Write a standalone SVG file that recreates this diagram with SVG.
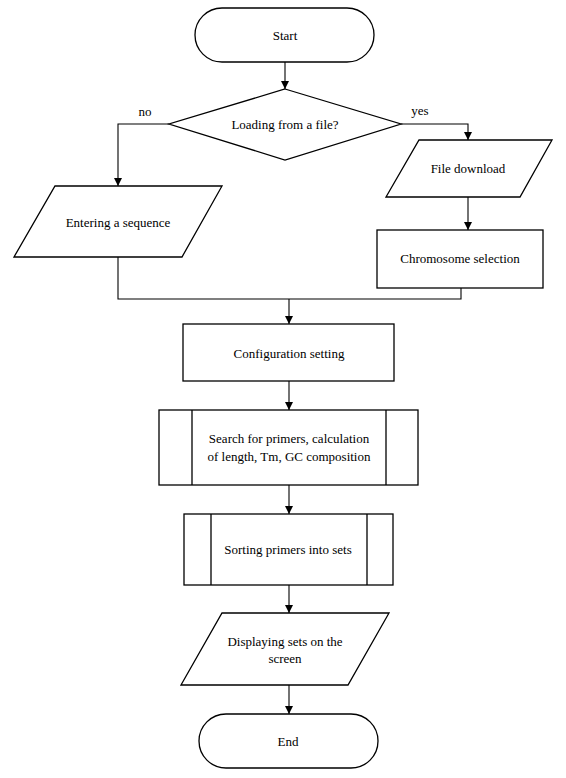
<svg xmlns="http://www.w3.org/2000/svg" width="566" height="778" viewBox="0 0 566 778">
<defs>
<style>
.s{fill:#fff;stroke:#000;stroke-width:1.3}
.c{fill:none;stroke:#000;stroke-width:1.1}
.t{font-family:'Liberation Serif','DejaVu Serif',serif;font-size:13px;fill:#000;text-anchor:middle}
</style>
<marker id="a" viewBox="0 0 10 10" refX="10" refY="5" markerWidth="8" markerHeight="8" markerUnits="userSpaceOnUse" orient="auto">
<path d="M0,0L10,5L0,10z" fill="#000"/>
</marker>
</defs>
<rect width="566" height="778" fill="#fff"/>
<g id="connectors">
<path class="c" d="M285,62V89" marker-end="url(#a)"/>
<path class="c" d="M169,124H118V186" marker-end="url(#a)"/>
<path class="c" d="M401,124H468V140" marker-end="url(#a)"/>
<path class="c" d="M468,197V230" marker-end="url(#a)"/>
<path class="c" d="M118,257V299H461V288"/>
<path class="c" d="M289,299V324" marker-end="url(#a)"/>
<path class="c" d="M289,381V410" marker-end="url(#a)"/>
<path class="c" d="M289,485V514" marker-end="url(#a)"/>
<path class="c" d="M289,585V613" marker-end="url(#a)"/>
<path class="c" d="M289,685V714" marker-end="url(#a)"/>
<text class="t" font-family="Liberation Serif, serif" x="145" y="116">no</text>
<text class="t" font-family="Liberation Serif, serif" x="420" y="115">yes</text>
</g>
<g id="start">
<rect class="s" x="195" y="8" width="179" height="54" rx="27"/>
<text class="t" font-family="Liberation Serif, serif" x="285" y="40">Start</text>
</g>
<g id="decision">
<path class="s" d="M285,89L401,124L285,160L169,124Z"/>
<text class="t" font-family="Liberation Serif, serif" x="285" y="129">Loading from a file?</text>
</g>
<g id="entering">
<path class="s" d="M55,186H222L182,257H14Z"/>
<text class="t" font-family="Liberation Serif, serif" x="118" y="227">Entering a sequence</text>
</g>
<g id="filedownload">
<path class="s" d="M419,140H552L520,197H386Z"/>
<text class="t" font-family="Liberation Serif, serif" x="468" y="173">File download</text>
</g>
<g id="chromosome">
<rect class="s" x="377" y="230" width="166" height="58"/>
<text class="t" font-family="Liberation Serif, serif" x="460" y="263">Chromosome selection</text>
</g>
<g id="config">
<rect class="s" x="183" y="324" width="211" height="57"/>
<text class="t" font-family="Liberation Serif, serif" x="289" y="358">Configuration setting</text>
</g>
<g id="search">
<rect class="s" x="159" y="410" width="259" height="75"/>
<path class="c" d="M192,410V485M386,410V485" style="stroke-width:1.3"/>
<text class="t" font-family="Liberation Serif, serif" x="289" y="443">Search for primers, calculation</text>
<text class="t" font-family="Liberation Serif, serif" x="289" y="461">of length, Tm, GC composition</text>
</g>
<g id="sorting">
<rect class="s" x="184" y="514" width="209" height="71"/>
<path class="c" d="M211,514V585M367,514V585" style="stroke-width:1.3"/>
<text class="t" font-family="Liberation Serif, serif" x="288" y="554">Sorting primers into sets</text>
</g>
<g id="display">
<path class="s" d="M222,613H389L348,685H181Z"/>
<text class="t" font-family="Liberation Serif, serif" x="285" y="646">Displaying sets on the</text>
<text class="t" font-family="Liberation Serif, serif" x="285" y="663">screen</text>
</g>
<g id="end">
<rect class="s" x="199" y="714" width="179" height="54" rx="27"/>
<text class="t" font-family="Liberation Serif, serif" x="288" y="746">End</text>
</g>
</svg>
